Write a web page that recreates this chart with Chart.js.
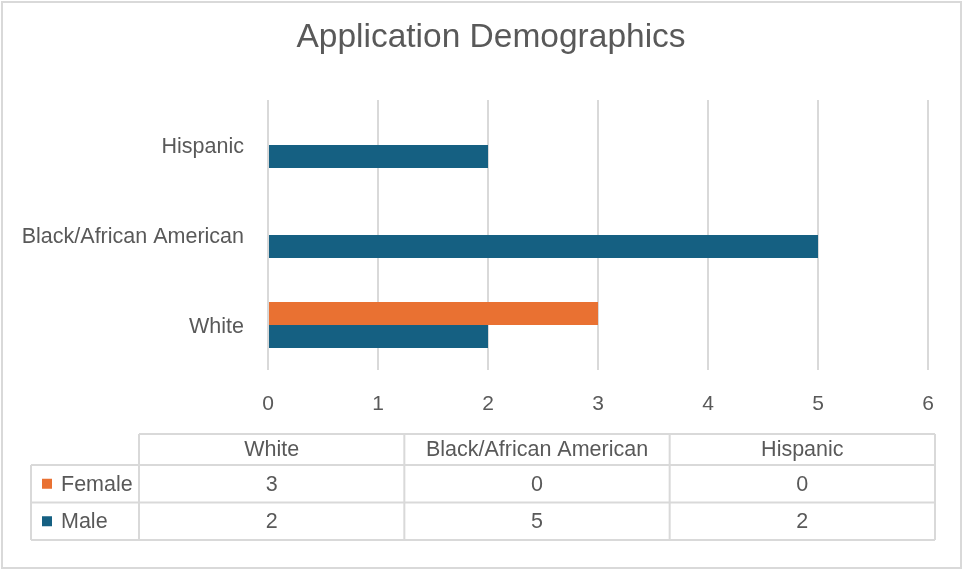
<!DOCTYPE html>
<html>
<head>
<meta charset="utf-8">
<script src="https://cdn.jsdelivr.net/npm/chart.js@4/dist/chart.umd.min.js"></script>
<style>
  html, body { margin: 0; padding: 0; background: #fff; }
  canvas { display: block; }
</style>
</head>
<body>
<canvas id="demoChart" width="964" height="571"></canvas>
<script>
// Data
const chartTitle = 'Application Demographics';
const categories = ['White', 'Black/African American', 'Hispanic'];
const seriesNames = ['Female', 'Male'];
const femaleValues = [3, 0, 0];
const maleValues = [2, 5, 2];
const seriesColors = ['#E97132', '#156082'];

const textColor = '#595959';
const gridColor = '#D9D9D9';
const mainFont = "'Liberation Sans', Arial, sans-serif";

// frame, white background and the title (centred over the whole card, not the plot)
const framePlugin = {
  id: 'frame',
  beforeDraw(chart) {
    const ctx = chart.ctx;
    ctx.save();
    ctx.fillStyle = '#fff';
    ctx.fillRect(0, 0, chart.width, chart.height);
    ctx.strokeStyle = gridColor;
    ctx.lineWidth = 2;
    ctx.strokeRect(2, 2, chart.width - 5, chart.height - 5);
    ctx.fillStyle = textColor;
    ctx.font = '33.5px ' + mainFont;
    ctx.textAlign = 'center';
    ctx.textBaseline = 'middle';
    ctx.fillText(chartTitle, 491, 38);
    ctx.restore();
  }
};

// data table under the plot, built from chart.data
const dataTablePlugin = {
  id: 'dataTable',
  afterDraw(chart) {
    const ctx = chart.ctx;
    const labels = chart.data.labels;
    const sets = chart.data.datasets;
    const left = 31, col0 = 139, right = 935;
    const top = 434, headH = 31, rowH = 37.5;
    const colW = (right - col0) / labels.length;
    const bottom = top + headH + rowH * sets.length;

    ctx.save();
    ctx.strokeStyle = gridColor;
    ctx.lineWidth = 2;
    ctx.beginPath();
    // horizontal lines
    ctx.moveTo(col0, top); ctx.lineTo(right, top);
    for (let r = 0; r <= sets.length; r++) {
      const y = top + headH + rowH * r;
      ctx.moveTo(left, y); ctx.lineTo(right, y);
    }
    // vertical lines
    ctx.moveTo(left, top + headH); ctx.lineTo(left, bottom);
    for (let c = 0; c <= labels.length; c++) {
      const x = col0 + colW * c;
      ctx.moveTo(x, top); ctx.lineTo(x, bottom);
    }
    ctx.stroke();

    ctx.fillStyle = textColor;
    ctx.font = '21.5px ' + mainFont;
    ctx.textAlign = 'center';
    ctx.textBaseline = 'middle';
    labels.forEach((lab, c) => {
      ctx.fillText(lab, col0 + colW * (c + 0.5), top + headH / 2 + 1);
    });
    sets.forEach((ds, r) => {
      const cy = top + headH + rowH * (r + 0.5) + 1;
      ds.data.forEach((v, c) => {
        ctx.fillStyle = textColor;
        ctx.textAlign = 'center';
        ctx.fillText(String(v), col0 + colW * (c + 0.5), cy);
      });
      ctx.fillStyle = ds.backgroundColor;
      ctx.fillRect(42, cy - 6, 10, 10);
      ctx.fillStyle = textColor;
      ctx.textAlign = 'left';
      ctx.fillText(ds.label, 61, cy);
    });
    ctx.restore();
  }
};

new Chart(document.getElementById('demoChart'), {
  type: 'bar',
  data: {
    labels: categories,
    datasets: [
      { label: seriesNames[0], data: femaleValues, backgroundColor: seriesColors[0] },
      { label: seriesNames[1], data: maleValues, backgroundColor: seriesColors[1] }
    ]
  },
  options: {
    indexAxis: 'y',
    responsive: false,
    animation: false,
    events: [],
    categoryPercentage: 0.51,
    barPercentage: 1,
    layout: { padding: { left: 0, right: 36, top: 100, bottom: 0 } },
    plugins: {
      legend: { display: false },
      tooltip: { enabled: false },
      title: { display: false }
    },
    scales: {
      x: {
        min: 0,
        max: 6,
        ticks: { stepSize: 1, color: textColor, padding: 22, font: { family: mainFont, size: 21 } },
        grid: { color: gridColor, lineWidth: 2, drawTicks: false },
        border: { display: false },
        afterFit(scale) { scale.height = 201; }
      },
      y: {
        reverse: true,
        ticks: { color: textColor, padding: 24, labelOffset: 2, font: { family: mainFont, size: 21.5 } },
        grid: { display: false, drawTicks: false },
        border: { display: false },
        afterFit(scale) { scale.width = 268; }
      }
    }
  },
  plugins: [framePlugin, dataTablePlugin]
});
</script>
</body>
</html>
